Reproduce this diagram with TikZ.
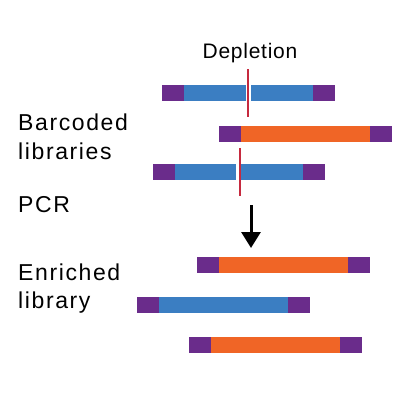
\documentclass[tikz,border=0pt]{standalone}
\usepackage{fontspec}
\setmainfont{Liberation Sans}[LetterSpace=7]
\newfontfamily\headfont{Liberation Sans}[LetterSpace=3.5]
\usetikzlibrary{positioning,arrows.meta}

\definecolor{tagpurple}{HTML}{6A2C8B}
\definecolor{readblue}{HTML}{3B7EC2}
\definecolor{readorange}{HTML}{F06526}
\definecolor{cutred}{HTML}{C62A3F}

\tikzset{
    seg/.style={draw=none, inner sep=0pt, outer sep=0pt, minimum height=16pt},
    tag/.style={seg, fill=tagpurple, minimum width=22pt},
    blueread/.style={seg, fill=readblue, minimum width=#1},
    orangeread/.style={seg, fill=readorange, minimum width=129pt},
    cut/.style={draw=cutred, line width=2pt},
    lbl/.style={inner sep=0pt, anchor=base west, font=\fontsize{23}{27}\selectfont},
}

\begin{document}
\begin{tikzpicture}[x=1pt, y=-1pt]
    \useasboundingbox (0,0) rectangle (400,400);

    % labels
    \node[lbl, anchor=base, font=\headfont\fontsize{21}{25}\selectfont] (depletion) at (250,58) {Depletion};
    \node[lbl] (barcoded) at (18,130) {Barcoded};
    \node[lbl] (libraries) at (18,159) {libraries};
    \node[lbl] (pcr) at (18,212) {PCR};
    \node[lbl] (enriched) at (18,280) {Enriched};
    \node[lbl] (library) at (18,308) {library};

    % barcoded libraries
    \node[tag, anchor=west] (b1l) at (162,93) {};
    \node[blueread=61.5pt, right=0pt of b1l] (b1a) {};
    \node[blueread=62pt, right=5.5pt of b1a] (b1b) {};
    \node[tag, right=0pt of b1b] (b1r) {};

    \node[tag, anchor=west] (b2l) at (219,134) {};
    \node[orangeread, right=0pt of b2l] (b2a) {};
    \node[tag, right=0pt of b2a] (b2r) {};

    \node[tag, anchor=west] (b3l) at (153,172) {};
    \node[blueread=61pt, right=0pt of b3l] (b3a) {};
    \node[blueread=62pt, right=5pt of b3a] (b3b) {};
    \node[tag, right=0pt of b3b] (b3r) {};

    % depletion cuts
    \coordinate (cut1top) at (247.7,69);
    \coordinate (cut1end) at (247.7,117);
    \coordinate (cut2top) at (239.5,148);
    \coordinate (cut2end) at (239.5,196);
    \draw[cut] (cut1top) -- (cut1end);
    \draw[cut] (cut2top) -- (cut2end);

    % PCR
    \coordinate (pcrtop) at (251,205);
    \coordinate (pcrend) at (251,248);
    \draw[line width=3pt, -{Triangle[width=19pt, length=16pt]}] (pcrtop) -- (pcrend);

    % enriched library
    \node[tag, anchor=west] (e1l) at (197,265) {};
    \node[orangeread, right=0pt of e1l] (e1a) {};
    \node[tag, right=0pt of e1a] (e1r) {};

    \node[tag, anchor=west] (e2l) at (137,305) {};
    \node[blueread=129pt, right=0pt of e2l] (e2a) {};
    \node[tag, right=0pt of e2a] (e2r) {};

    \node[tag, anchor=west] (e3l) at (189,345) {};
    \node[orangeread, right=0pt of e3l] (e3a) {};
    \node[tag, right=0pt of e3a] (e3r) {};
\end{tikzpicture}
\end{document}
